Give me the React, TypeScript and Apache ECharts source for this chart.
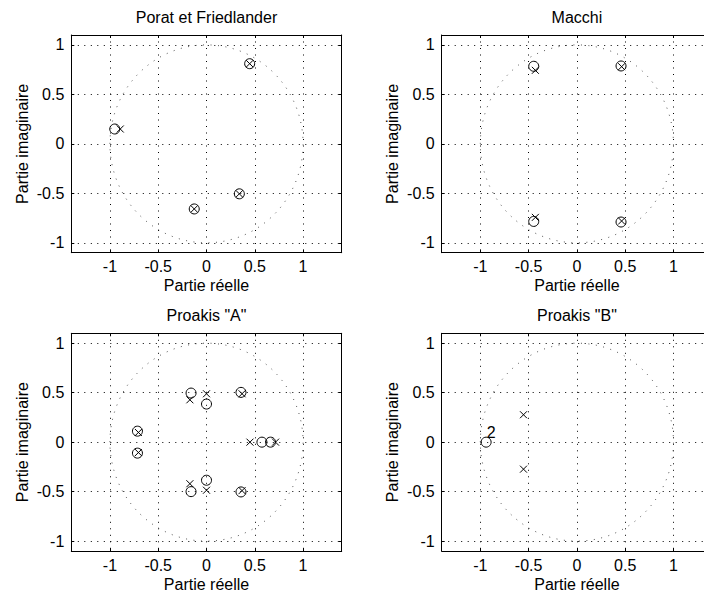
import React, { useEffect, useRef } from 'react';
import * as echarts from 'echarts';

// ---- texts ----
const titles = ['Porat et Friedlander', 'Macchi', 'Proakis "A"', 'Proakis "B"'];
const xAxisName = 'Partie réelle';
const yAxisName = 'Partie imaginaire';

// ---- axes ----
const tickValues = [-1, -0.5, 0, 0.5, 1];
const xRange = [-1.4, 1.4];
const yRange = [-1.1, 1.1];
const unitRadius = 1;

// ---- zeros (o) and poles (x), [real, imag] ----
const zerosPorat = [[0.447, 0.81], [-0.95, 0.15], [0.34, -0.505], [-0.127, -0.658]];
const polesPorat = [[0.447, 0.81], [-0.893, 0.15], [0.34, -0.505], [-0.127, -0.658]];

const zerosMacchi = [[-0.447, 0.784], [0.457, 0.787], [-0.447, -0.784], [0.457, -0.79]];
const polesMacchi = [[-0.43, 0.743], [0.463, 0.78], [-0.43, -0.743], [0.463, -0.78]];

const zerosProakisA = [
  [-0.16, 0.496], [0, 0.385], [0.357, 0.503], [-0.715, 0.111], [-0.715, -0.111],
  [0.574, 0], [0.663, 0], [0, -0.385], [-0.16, -0.5], [0.357, -0.503],
];
const polesProakisA = [
  [-0.172, 0.428], [0, 0.489], [0.368, 0.489], [-0.705, 0.098], [-0.705, -0.105],
  [0.45, 0], [0.715, 0], [-0.172, -0.42], [0, -0.486], [0.368, -0.49],
];

const zerosProakisB = [[-0.94, 0]];
const zeroMultiplicityB = [2];
const polesProakisB = [[-0.553, 0.277], [-0.553, -0.273]];

const panelZeros = [zerosPorat, zerosMacchi, zerosProakisA, zerosProakisB];
const panelPoles = [polesPorat, polesMacchi, polesProakisA, polesProakisB];
const panelMultiplicity = [null, null, null, zeroMultiplicityB];

// ---- layout ----
const gridLefts = [71.3, 441.7, 71.3, 441.7];
const gridTops = [35, 35, 333.3, 333.3];
const gridWidth = 270.4;
const gridHeight = 217.7;

const FONT = '"Liberation Sans", Arial, Helvetica, sans-serif';
const FS = 16;
const crossPath = 'path://M0,0L10,10M0,10L10,0';

function buildOption() {
  const grid: any[] = [];
  const xAxis: any[] = [];
  const yAxis: any[] = [];
  const series: any[] = [];

  for (let i = 0; i < 4; i++) {
    grid.push({
      left: gridLefts[i],
      top: gridTops[i],
      width: gridWidth,
      height: gridHeight,
      containLabel: false,
      outerBoundsMode: 'none',
      show: false,
    });
    const axisCommon = {
      type: 'value',
      gridIndex: i,
      axisLine: { show: true, onZero: false, lineStyle: { color: '#000', width: 1 } },
      axisTick: { show: true, inside: true, length: 3, customValues: tickValues, lineStyle: { color: '#000' } },
    };
    // bottom x
    xAxis.push({
      ...axisCommon,
      position: 'bottom',
      min: xRange[0],
      max: xRange[1],
      name: xAxisName,
      nameLocation: 'middle',
      nameGap: 25,
      nameTextStyle: { color: '#000', fontSize: FS, fontFamily: FONT },
      axisLabel: { show: true, customValues: tickValues, color: '#000', fontSize: FS, fontFamily: FONT, margin: 6 },
      splitLine: { show: true, lineStyle: { color: '#000', width: 1, type: [1, 5.5] } },
    });
    // top x (box + title)
    xAxis.push({
      ...axisCommon,
      position: 'top',
      min: xRange[0],
      max: xRange[1],
      name: titles[i],
      nameLocation: 'middle',
      nameGap: 10,
      nameTextStyle: { color: '#000', fontSize: FS, fontFamily: FONT },
      axisLabel: { show: false },
      splitLine: { show: false },
    });
    // left y
    yAxis.push({
      ...axisCommon,
      position: 'left',
      min: yRange[0],
      max: yRange[1],
      name: yAxisName,
      nameLocation: 'middle',
      nameGap: 41,
      nameTextStyle: { color: '#000', fontSize: FS, fontFamily: FONT },
      axisLabel: { show: true, customValues: tickValues, color: '#000', fontSize: FS, fontFamily: FONT, margin: 7 },
      splitLine: { show: true, lineStyle: { color: '#000', width: 1, type: [1, 5.5] } },
    });
    // right y (box)
    yAxis.push({
      ...axisCommon,
      position: 'right',
      min: yRange[0],
      max: yRange[1],
      axisLabel: { show: false },
      splitLine: { show: false },
    });

    // unit circle
    series.push({
      type: 'custom',
      xAxisIndex: 2 * i,
      yAxisIndex: 2 * i,
      silent: true,
      z: 1,
      data: [[0, 0]],
      renderItem: (params: any, api: any) => {
        const c = api.coord([api.value(0), api.value(1)]);
        const s = api.size([unitRadius, unitRadius]);
        return {
          type: 'ellipse',
          shape: { cx: c[0], cy: c[1], rx: s[0], ry: s[1] },
          style: { fill: 'none', stroke: '#555', lineWidth: 1, lineDash: [1, 6.5] },
        };
      },
    });

    const mult = panelMultiplicity[i];
    series.push({
      type: 'scatter',
      xAxisIndex: 2 * i,
      yAxisIndex: 2 * i,
      symbol: 'circle',
      symbolSize: 10,
      z: 3,
      silent: true,
      itemStyle: { color: 'transparent', borderColor: '#000', borderWidth: 1, opacity: 1 },
      data: panelZeros[i].map((p, k) => {
        const item: any = { value: p };
        if (mult && mult[k] > 1) {
          item.label = {
            show: true,
            formatter: String(mult[k]),
            position: 'inside',
            offset: [5, -10],
            color: '#000',
            fontSize: FS,
            fontFamily: FONT,
          };
        }
        return item;
      }),
    });
    series.push({
      type: 'scatter',
      xAxisIndex: 2 * i,
      yAxisIndex: 2 * i,
      symbol: crossPath,
      symbolSize: 7,
      z: 4,
      silent: true,
      itemStyle: { color: 'transparent', borderColor: '#000', borderWidth: 1, opacity: 1 },
      data: panelPoles[i],
    });
  }

  return {
    animation: false,
    backgroundColor: '#fff',
    textStyle: { fontFamily: FONT },
    grid,
    xAxis,
    yAxis,
    series,
  };
}

export default function App() {
  const ref = useRef<HTMLDivElement>(null);
  useEffect(() => {
    if (!ref.current) return;
    const chart = echarts.init(ref.current, undefined, { renderer: 'svg' });
    chart.setOption(buildOption() as any);
    return () => chart.dispose();
  }, []);
  return (
    <div
      ref={ref}
      style={{ position: 'absolute', left: 0, top: 0, width: 704, height: 599, background: '#fff' }}
    />
  );
}
